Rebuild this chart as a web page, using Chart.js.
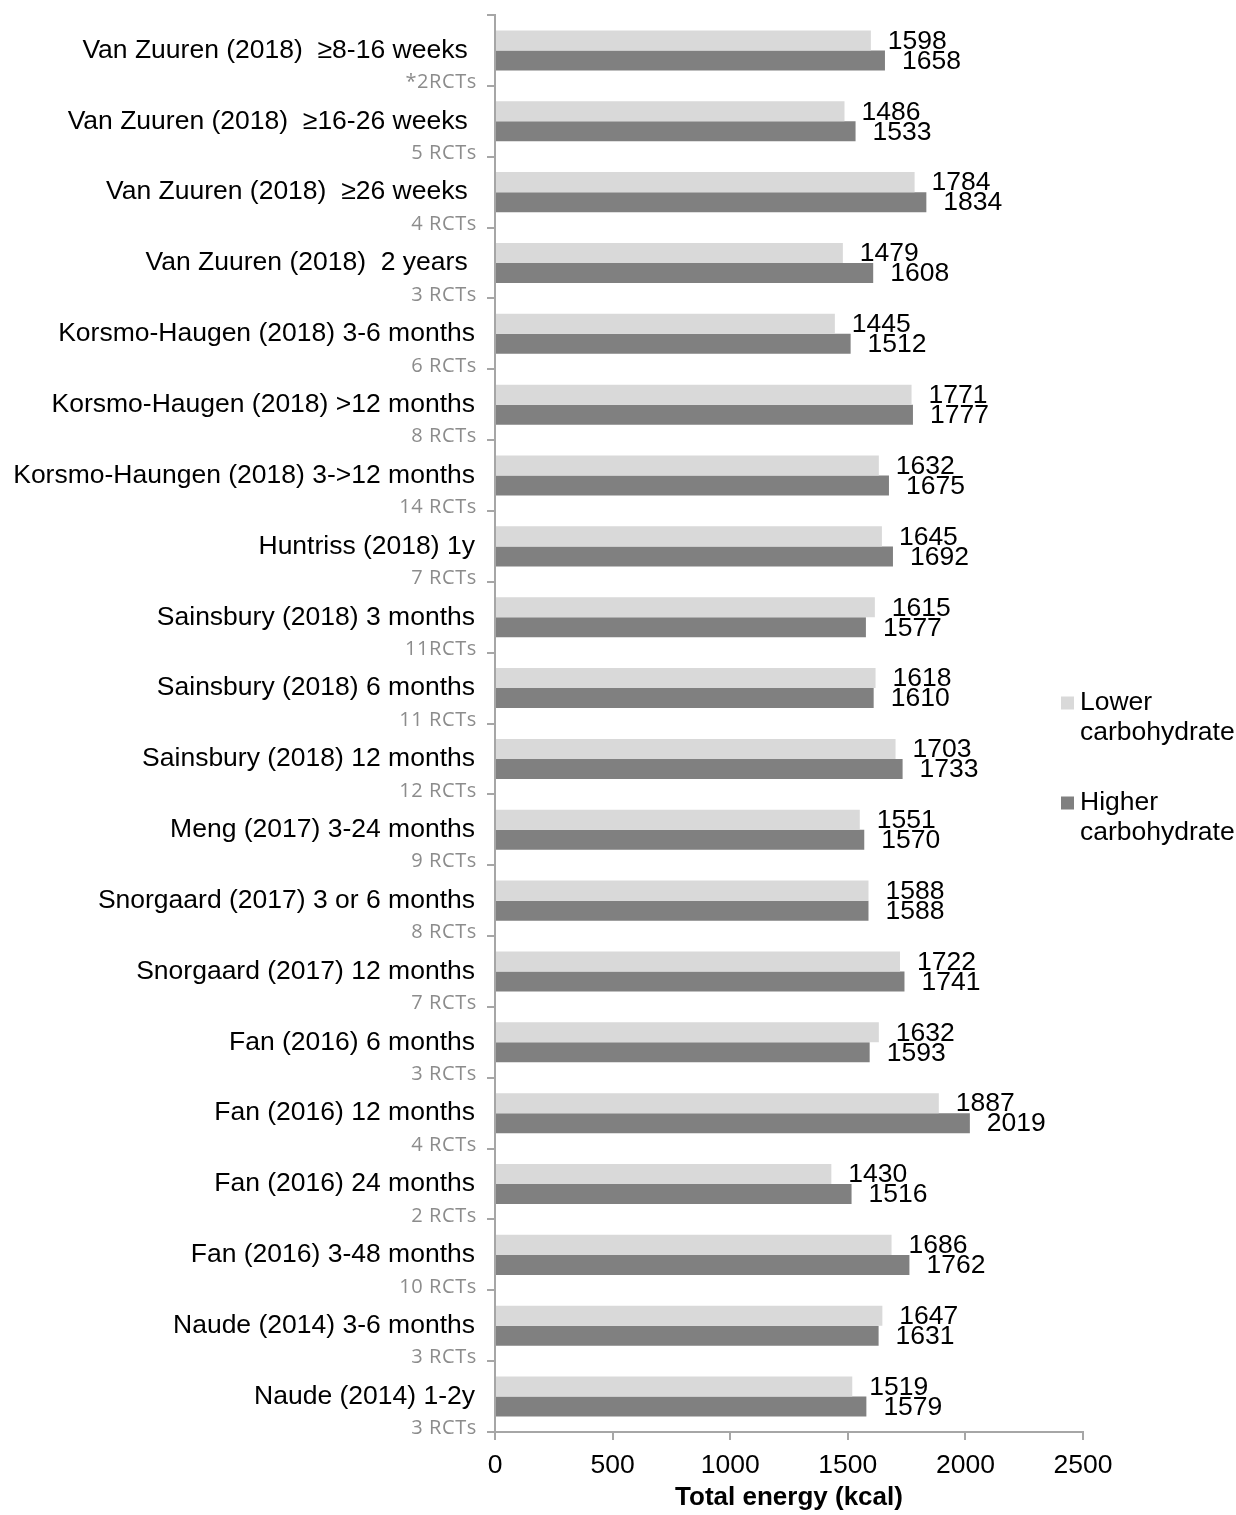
<!DOCTYPE html>
<html>
<head>
<meta charset="utf-8">
<script src="https://cdn.jsdelivr.net/npm/chart.js@4/dist/chart.umd.min.js"></script>
<style>
  body { margin: 0; background: #fff; }
  #wrap { width: 1236px; height: 1515px; }
</style>
</head>
<body>
<div id="wrap"><canvas id="energyChart" width="1236" height="1515"></canvas></div>
<script>
// --- data ---
const studyLabels = [
    'Van Zuuren (2018)  \u22658-16 weeks ',
    'Van Zuuren (2018)  \u226516-26 weeks ',
    'Van Zuuren (2018)  \u226526 weeks ',
    'Van Zuuren (2018)  2 years ',
    'Korsmo-Haugen (2018) 3-6 months',
    'Korsmo-Haugen (2018) >12 months',
    'Korsmo-Haungen (2018) 3->12 months',
    'Huntriss (2018) 1y',
    'Sainsbury (2018) 3 months',
    'Sainsbury (2018) 6 months',
    'Sainsbury (2018) 12 months',
    'Meng (2017) 3-24 months',
    'Snorgaard (2017) 3 or 6 months',
    'Snorgaard (2017) 12 months',
    'Fan (2016) 6 months',
    'Fan (2016) 12 months',
    'Fan (2016) 24 months',
    'Fan (2016) 3-48 months',
    'Naude (2014) 3-6 months',
    'Naude (2014) 1-2y'
];
const rctLabels = [
    '*2RCTs', '5 RCTs', '4 RCTs', '3 RCTs', '6 RCTs', '8 RCTs', '14 RCTs', '7 RCTs', '11RCTs', '11 RCTs',
    '12 RCTs', '9 RCTs', '8 RCTs', '7 RCTs', '3 RCTs', '4 RCTs', '2 RCTs', '10 RCTs', '3 RCTs', '3 RCTs'
];
const lowerCarb = [1598, 1486, 1784, 1479, 1445, 1771, 1632, 1645, 1615, 1618, 1703, 1551, 1588, 1722, 1632, 1887, 1430, 1686, 1647, 1519];
const higherCarb = [1658, 1533, 1834, 1608, 1512, 1777, 1675, 1692, 1577, 1610, 1733, 1570, 1588, 1741, 1593, 2019, 1516, 1762, 1631, 1579];
const seriesNames = [['Lower', 'carbohydrate'], ['Higher', 'carbohydrate']];
const seriesColors = ['#d9d9d9', '#808080'];

const FONT = "'Liberation Sans', Arial, sans-serif";
const AXIS_GREY = '#a6a6a6';
Chart.defaults.font.family = FONT;
Chart.defaults.color = '#000';

// --- 값 라벨 (막대 끝) ---
const valueLabels = {
    id: 'valueLabels',
    afterDatasetsDraw(chart) {
        const ctx = chart.ctx;
        ctx.save();
        ctx.font = '26.5px ' + FONT;
        ctx.fillStyle = '#000';
        ctx.textAlign = 'left';
        ctx.textBaseline = 'middle';
        chart.data.datasets.forEach((ds, di) => {
            chart.getDatasetMeta(di).data.forEach((bar, i) => {
                ctx.fillText(String(ds.data[i]), bar.x + 17, bar.y + 1);
            });
        });
        ctx.restore();
    }
};

// --- RCT 개수 라벨 ---
const rctText = {
    id: 'rctText',
    afterDraw(chart) {
        const ctx = chart.ctx;
        const y = chart.scales.y;
        ctx.save();
        ctx.font = "20px 'Open Sans', sans-serif";
        ctx.letterSpacing = '0.6px';
        ctx.fillStyle = '#8c8c8c';
        ctx.textAlign = 'right';
        ctx.textBaseline = 'middle';
        rctLabels.forEach((t, i) => {
            ctx.fillText(t, 477, y.getPixelForValue(i) + 32);
        });
        ctx.restore();
    }
};

// --- 범례 ---
const sideLegend = {
    id: 'sideLegend',
    afterDraw(chart) {
        const ctx = chart.ctx;
        const mid = (chart.chartArea.top + chart.chartArea.bottom) / 2;
        ctx.save();
        ctx.font = '26.5px ' + FONT;
        ctx.textAlign = 'left';
        ctx.textBaseline = 'middle';
        seriesNames.forEach((lines, k) => {
            const top = mid - 21 + k * 100;
            ctx.fillStyle = seriesColors[k];
            ctx.fillRect(1061, top - 6, 13, 13);
            ctx.fillStyle = '#000';
            lines.forEach((l, j) => ctx.fillText(l, 1080, top + j * 30));
        });
        ctx.restore();
    }
};

new Chart(document.getElementById('energyChart').getContext('2d'), {
    type: 'bar',
    data: {
        labels: studyLabels,
        datasets: [
            { label: 'Lower carbohydrate', data: lowerCarb, backgroundColor: seriesColors[0], categoryPercentage: 0.565, barPercentage: 1.0 },
            { label: 'Higher carbohydrate', data: higherCarb, backgroundColor: seriesColors[1], categoryPercentage: 0.565, barPercentage: 1.0 }
        ]
    },
    options: {
        indexAxis: 'y',
        responsive: false,
        animation: false,
        layout: { padding: { top: 15, right: 153, bottom: 0, left: 0 } },
        plugins: { legend: { display: false }, tooltip: { enabled: false } },
        scales: {
            x: {
                min: 0, max: 2500,
                ticks: { stepSize: 500, font: { size: 26.5 }, color: '#000', padding: 10, maxRotation: 0,
                         callback: (v) => String(v) },
                grid: { drawOnChartArea: false, drawTicks: true, tickLength: 8, color: AXIS_GREY, lineWidth: 2 },
                border: { color: AXIS_GREY, width: 2 },
                title: { display: true, text: 'Total energy (kcal)', font: { size: 26, weight: 'bold' }, color: '#000', padding: { top: 0, bottom: 2 } },
                afterFit: (scale) => { scale.height = 83; scale.paddingLeft = 0; scale.paddingRight = 0; }
            },
            y: {
                ticks: { font: { size: 26.5 }, color: '#000', padding: 12, autoSkip: false },
                grid: { offset: true, drawOnChartArea: false, drawTicks: true, tickLength: 8, color: AXIS_GREY, lineWidth: 2 },
                border: { color: AXIS_GREY, width: 2 },
                afterFit: (scale) => { scale.width = 495; scale.paddingTop = 0; scale.paddingBottom = 0; }
            }
        }
    },
    plugins: [valueLabels, rctText, sideLegend]
});
</script>
</body>
</html>
